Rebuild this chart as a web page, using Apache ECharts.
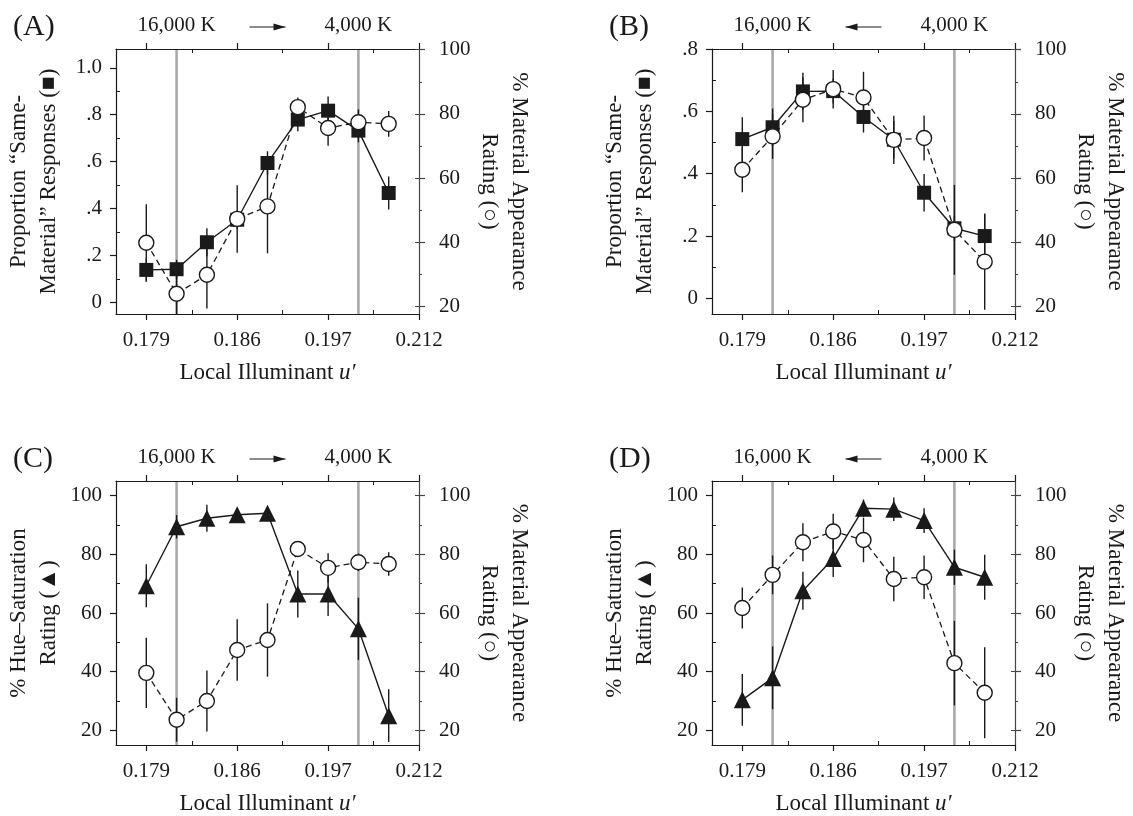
<!DOCTYPE html>
<html><head><meta charset="utf-8">
<script src="https://cdn.jsdelivr.net/npm/echarts@6/dist/echarts.min.js"></script>
<style>html,body{margin:0;padding:0;background:#fff}#c{width:1133px;height:816px}</style>
</head><body><div id="c"></div>
<script>
// ---- data ----
const steps = [0, 1, 2, 3, 4, 5, 6, 7, 8];          // illuminant step along u'
const uTickPos = [0, 3, 6, 9];
const uTickLabels = ['0.179', '0.186', '0.197', '0.212'];
const uMinorPos = [1.5, 4.5, 7.5];
const cctPos = [1, 7];
const cctLabels = ['16,000 K', '4,000 K'];

const propTicksA = [0, 0.2, 0.4, 0.6, 0.8, 1.0];
const propLabelsA = ['0', '.2', '.4', '.6', '.8', '1.0'];
const propMinorA = [0.1, 0.3, 0.5, 0.7, 0.9];
const propTicksB = [0, 0.2, 0.4, 0.6, 0.8];
const propLabelsB = ['0', '.2', '.4', '.6', '.8'];
const propMinorB = [0.1, 0.3, 0.5, 0.7];
const pctTicks = [20, 40, 60, 80, 100];
const pctMinor = [30, 50, 70, 90];

// Panel A
const aSame    = [0.138, 0.141, 0.256, 0.352, 0.594, 0.779, 0.817, 0.732, 0.466];
const aSameErr = [0.05, 0.04, 0.06, 0.04, 0.05, 0.05, 0.06, 0.05, 0.07];
const aMat     = [39.9, 24.0, 29.9, 47.3, 51.2, 82.1, 75.6, 77.4, 76.9];
const aMatErr  = [12, 10, 10.5, 10.5, 14.6, 3, 5.5, 4, 4];
// Panel B
const bSame    = [0.511, 0.549, 0.664, 0.665, 0.582, 0.509, 0.339, 0.225, 0.200];
const bSameErr = [0.07, 0.06, 0.06, 0.04, 0.05, 0.06, 0.06, 0.04, 0.07];
const bMat     = [62.6, 73.0, 84.4, 87.7, 85.1, 71.9, 72.5, 43.9, 34.0];
const bMatErr  = [7, 7, 7, 6, 8, 7.5, 7, 14, 15];
// Panel C
const cHue     = [69.3, 89.4, 92.3, 93.5, 94.0, 66.5, 66.5, 54.6, 25.0];
const cHueErr  = [7.3, 4, 4.6, 2, 2, 8, 7.5, 10.6, 9];
const cMat     = [39.6, 23.6, 30.0, 47.4, 50.8, 81.8, 75.4, 77.3, 76.7];
const cMatErr  = [12, 7.5, 10.4, 10.5, 12.5, 2, 5, 3, 4];
// Panel D
const dHue     = [30.4, 37.9, 67.6, 78.6, 95.7, 95.4, 91.5, 75.6, 72.2];
const dHueErr  = [8.8, 10.7, 6.5, 6.3, 3, 4, 4.2, 6, 7.7];
const dMat     = [61.7, 73.0, 84.1, 87.8, 84.9, 71.6, 72.2, 42.9, 32.8];
const dMatErr  = [7, 6.6, 6.5, 6, 7.6, 7.6, 7.4, 14.4, 15.5];

// ---- styling / layout ----
const FONT = 'Liberation Serif';
const INK = '#1a1a1a';
const RINK = '#444';
const GRAY = '#a9a9a9';
const X_MIN = -1, X_MAX = 9;
const GW = 303, GH = 265;
const NX = 4, NY = 5;   // axes per panel

const panels = [
  { letter: '(A)', left: 116, top: 49, dir: 1,
    leftName: 'Proportion “Same-\nMaterial” Responses (■)',
    lMin: -0.05, lMax: 1.08, lTicks: propTicksA, lLabels: propLabelsA, lMinor: propMinorA,
    rMin: 17.7, rMax: 100.2,
    s1: aSame, e1: aSameErr, sym1: 'rect', size1: 14, s2: aMat, e2: aMatErr },
  { letter: '(B)', left: 712, top: 49, dir: -1,
    leftName: 'Proportion “Same-\nMaterial” Responses (■)',
    lMin: -0.05, lMax: 0.8, lTicks: propTicksB, lLabels: propLabelsB, lMinor: propMinorB,
    rMin: 17.7, rMax: 100.2,
    s1: bSame, e1: bSameErr, sym1: 'rect', size1: 14, s2: bMat, e2: bMatErr },
  { letter: '(C)', left: 116, top: 481, dir: 1,
    leftName: '% Hue–Saturation\nRating (▲)',
    lMin: 15, lMax: 105, lTicks: pctTicks, lLabels: pctTicks.map(String), lMinor: pctMinor,
    rMin: 15, rMax: 105,
    s1: cHue, e1: cHueErr, sym1: 'triangle', size1: 17, s2: cMat, e2: cMatErr },
  { letter: '(D)', left: 712, top: 481, dir: -1,
    leftName: '% Hue–Saturation\nRating (▲)',
    lMin: 15, lMax: 105, lTicks: pctTicks, lLabels: pctTicks.map(String), lMinor: pctMinor,
    rMin: 15, rMax: 105,
    s1: dHue, e1: dHueErr, sym1: 'triangle', size1: 17, s2: dMat, e2: dMatErr }
];

const txt = (size) => ({ fontFamily: FONT, fontSize: size, color: INK });
const grids = [], xAxes = [], yAxes = [], series = [], titles = [];

function axLine(c) { return { show: true, onZero: false, lineStyle: { color: c || INK, width: 1.2 } }; }
function tickOnly(gi, pos, min, max, vals, inside, len, color) {
  return { gridIndex: gi, type: 'value', position: pos, min: min, max: max,
    axisLine: { show: false, onZero: false }, splitLine: { show: false }, axisLabel: { show: false },
    axisTick: { show: true, inside: inside, length: len, lineStyle: { color: color || INK, width: 1 }, customValues: vals } };
}

function errSeries(gi, vals, errs, yIdx) {
  return {
    type: 'custom', xAxisIndex: gi * NX, yAxisIndex: yIdx, z: 3, silent: true,
    encode: { x: 0, y: 1 },
    data: steps.map((x, i) => [x, vals[i], errs[i]]),
    renderItem: (params, api) => {
      const x = api.value(0), v = api.value(1), e = api.value(2);
      const a = api.coord([x, v - e]), b = api.coord([x, v + e]);
      const cs = params.coordSys;
      const cl = (y) => Math.max(cs.y, Math.min(cs.y + cs.height, y));
      return { type: 'line', shape: { x1: a[0], y1: cl(a[1]), x2: b[0], y2: cl(b[1]) },
               style: { stroke: INK, lineWidth: 1.4 } };
    }
  };
}

panels.forEach((p, gi) => {
  grids.push({ left: p.left, top: p.top, width: GW, height: GH, containLabel: false });
  titles.push({ text: p.letter, left: p.left - 108, top: p.top - 42,
                textStyle: { fontFamily: FONT, fontSize: 30, fontWeight: 'normal', color: INK } });
  // x axes: bottom main, bottom minor, top main, top minor
  xAxes.push({
    gridIndex: gi, type: 'value', position: 'bottom', min: X_MIN, max: X_MAX,
    axisLine: axLine(), splitLine: { show: false },
    axisTick: { show: true, length: 6, lineStyle: { color: INK, width: 1.2 }, customValues: uTickPos },
    axisLabel: { show: true, margin: 16, ...txt(21), customValues: uTickPos,
                 formatter: (v) => uTickLabels[uTickPos.indexOf(v)] },
    name: 'Local Illuminant {i|u′}', nameLocation: 'middle', nameGap: 47,
    nameTextStyle: { ...txt(23), rich: { i: { fontFamily: FONT, fontSize: 23, fontStyle: 'italic', color: INK } } }
  });
  xAxes.push(tickOnly(gi, 'bottom', X_MIN, X_MAX, uMinorPos, true, 4));
  xAxes.push({
    gridIndex: gi, type: 'value', position: 'top', min: X_MIN, max: X_MAX,
    axisLine: axLine(), splitLine: { show: false },
    axisTick: { show: true, length: 6, lineStyle: { color: INK, width: 1.2 }, customValues: uTickPos },
    axisLabel: { show: true, margin: 13, ...txt(21), customValues: cctPos,
                 formatter: (v) => cctLabels[cctPos.indexOf(v)] }
  });
  xAxes.push(tickOnly(gi, 'top', X_MIN, X_MAX, uMinorPos, true, 4));
  // y axes: left main, left minor, right main, right minor, right inner major
  yAxes.push({
    gridIndex: gi, type: 'value', position: 'left', min: p.lMin, max: p.lMax,
    axisLine: axLine(), splitLine: { show: false },
    axisTick: { show: true, length: 6, lineStyle: { color: INK, width: 1.2 }, customValues: p.lTicks },
    axisLabel: { show: true, margin: 14, ...txt(21), customValues: p.lTicks,
                 formatter: (v) => p.lLabels[p.lTicks.findIndex(t => Math.abs(t - v) < 1e-9)] },
    name: p.leftName, nameLocation: 'middle', nameGap: 52, nameRotate: 90,
    nameTextStyle: { ...txt(23), lineHeight: 30, align: 'center' }
  });
  yAxes.push(tickOnly(gi, 'left', p.lMin, p.lMax, p.lMinor, true, 4));
  yAxes.push({
    gridIndex: gi, type: 'value', position: 'right', min: p.rMin, max: p.rMax,
    axisLine: axLine(RINK), splitLine: { show: false },
    axisTick: { show: true, length: 6, lineStyle: { color: RINK, width: 1.2 }, customValues: pctTicks },
    axisLabel: { show: true, margin: 20, ...txt(21), customValues: pctTicks },
    name: '% Material Appearance\nRating (○)', nameLocation: 'middle', nameGap: 53, nameRotate: -90,
    nameTextStyle: { ...txt(23), lineHeight: 30, align: 'center' }
  });
  yAxes.push(tickOnly(gi, 'right', p.rMin, p.rMax, pctMinor, false, 3, RINK));
  yAxes.push(tickOnly(gi, 'right', p.rMin, p.rMax, pctTicks, true, 4, RINK));

  const xi = gi * NX, yl = gi * NY, yr = gi * NY + 2;
  // gray reference lines at the two colour temperatures
  series.push({
    type: 'custom', xAxisIndex: xi, yAxisIndex: yl, z: 0, silent: true,
    encode: { x: 0 }, data: cctPos.map(x => [x]),
    renderItem: (params, api) => {
      const cs = params.coordSys;
      const px = api.coord([api.value(0), p.lMin])[0];
      return { type: 'line', shape: { x1: px, y1: cs.y, x2: px, y2: cs.y + cs.height },
               style: { stroke: GRAY, lineWidth: 2.6 } };
    }
  });
  // error bars
  series.push(errSeries(gi, p.s1, p.e1, yl));
  series.push(errSeries(gi, p.s2, p.e2, yr));
  // filled-symbol series (left axis), solid line
  series.push({
    type: 'line', xAxisIndex: xi, yAxisIndex: yl, z: 4, silent: true,
    data: steps.map((x, i) => [x, p.s1[i]]),
    symbol: p.sym1, symbolSize: p.size1, showSymbol: true,
    itemStyle: { color: INK, borderWidth: 0 },
    lineStyle: { color: INK, width: 1.4 }, animation: false
  });
  // open circles (right axis), dashed line
  series.push({
    type: 'line', xAxisIndex: xi, yAxisIndex: yr, z: 5, silent: true,
    data: steps.map((x, i) => [x, p.s2[i]]),
    symbol: 'circle', symbolSize: 15, showSymbol: true,
    itemStyle: { color: '#fff', borderColor: INK, borderWidth: 1.4 },
    lineStyle: { color: INK, width: 1.3, type: [6, 4] }, animation: false
  });
});

const chart = echarts.init(document.getElementById('c'), null, { renderer: 'canvas' });
chart.setOption({
  animation: false, backgroundColor: '#fff',
  title: titles, grid: grids, xAxis: xAxes, yAxis: yAxes, series: series
});

// direction arrows between the colour-temperature labels
const graphics = [];
panels.forEach((p, gi) => {
  const mid = (cctPos[0] + cctPos[1]) / 2;
  const cx = chart.convertToPixel({ xAxisIndex: gi * NX + 2 }, mid);
  const y = p.top - 22, half = 18, head = 12, hh = 3.5;
  const tip = cx + p.dir * half, base = tip - p.dir * head;
  graphics.push({ type: 'line', shape: { x1: cx - half, y1: y, x2: cx + half, y2: y },
                  style: { stroke: INK, lineWidth: 1.2 }, silent: true });
  graphics.push({ type: 'polygon', shape: { points: [[tip, y], [base, y - hh], [base, y + hh]] },
                  style: { fill: INK }, silent: true });
});
chart.setOption({ graphic: graphics });
</script></body></html>
